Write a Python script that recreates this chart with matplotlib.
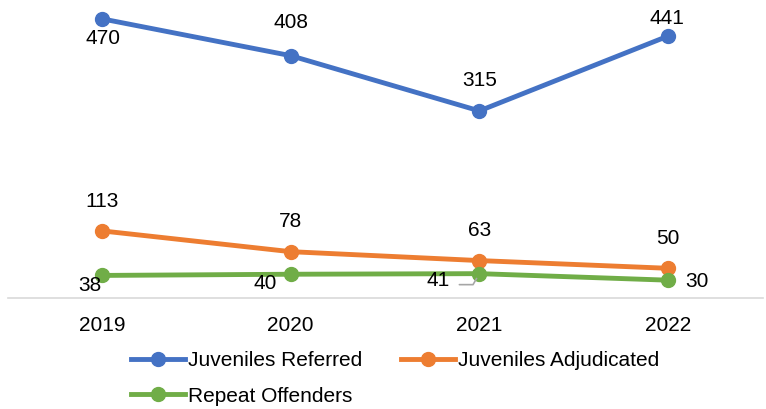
import matplotlib.pyplot as plt
from matplotlib.lines import Line2D

plt.rcParams['font.family'] = ['Liberation Sans', 'DejaVu Sans']

years = ["2019", "2020", "2021", "2022"]
referred = [470, 408, 315, 441]
adjudicated = [113, 78, 63, 50]
repeat = [38, 40, 41, 30]

# label offsets in pixels (dx, dy) for each point
off_referred = [(1, -20), (0, 33), (0, 30), (-1, 18)]
off_adjudicated = [(0, 29), (0, 30), (0, 30), (0, 30)]
off_repeat = [(-12, -10), (-25, -9), (-41, -7), (29, -1)]

blue = "#4472C4"
orange = "#ED7D31"
green = "#70AD47"

fig = plt.figure(figsize=(7.66, 4.09), dpi=100)
ax = fig.add_axes([7.5 / 766, 1 - 298 / 409, 755 / 766, 297 / 409])

x = list(range(len(years)))
series = [
    ("Juveniles Referred", referred, blue, off_referred),
    ("Juveniles Adjudicated", adjudicated, orange, off_adjudicated),
    ("Repeat Offenders", repeat, green, off_repeat),
]
for name, vals, col, offs in series:
    ax.plot(x, vals, color=col, linewidth=3.5, marker="o", markersize=10,
            solid_capstyle="round", label=name, clip_on=False)
    for i, v in enumerate(vals):
        dx, dy = offs[i]
        ax.annotate(str(v), (x[i], v), xytext=(dx, dy), textcoords="offset pixels",
                    ha="center", va="center", fontsize=15, color="black")

# leader line for the 2021 repeat offenders label
ax.annotate("", (x[2], repeat[2]), xytext=(-20, -11), textcoords="offset pixels",
            arrowprops=dict(arrowstyle="-", color="#A6A6A6", lw=1.2,
                            connectionstyle="angle,angleA=0,angleB=60,rad=0",
                            shrinkA=0, shrinkB=4))

ax.set_xlim(-0.5, 3.5)
ax.set_ylim(0, 500)
ax.set_xticks(x)
ax.set_xticklabels(years, fontsize=15)
ax.tick_params(axis="x", length=0, pad=13)
ax.set_yticks([])
for s in ["top", "right", "left"]:
    ax.spines[s].set_visible(False)
ax.spines["bottom"].set_color("#D9D9D9")
ax.spines["bottom"].set_linewidth(1.2)

handles = [Line2D([], [], color=c, lw=3.5, marker="o", markersize=10) for _, _, c, _ in series]
labels = [n for n, _, _, _ in series]
# column-first fill: Referred / Repeat in column 1, Adjudicated in column 2
order = [0, 2, 1]
fig.legend([handles[i] for i in order], [labels[i] for i in order],
           loc="upper left", bbox_to_anchor=(131 / 766, 1 - 351 / 409), ncol=2,
           frameon=False, fontsize=15, handlelength=2.6, handletextpad=0.15,
           columnspacing=1.85, labelspacing=0.8, borderaxespad=0,
           borderpad=0)

fig.savefig("out.png", dpi=100)
